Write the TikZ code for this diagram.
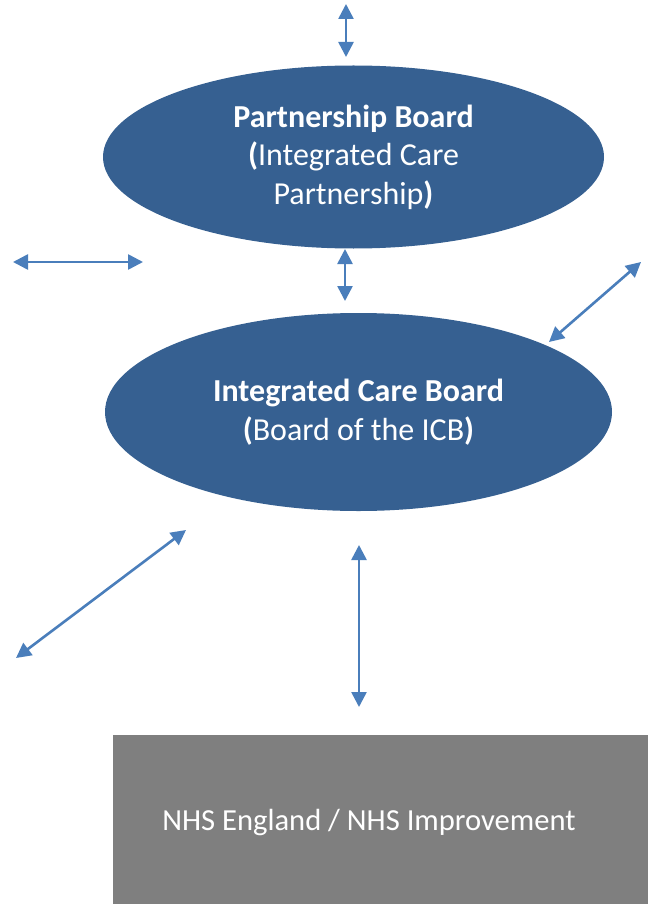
\documentclass[tikz,border=0pt]{standalone}
\usepackage{fontspec}
\setmainfont{Carlito}
\usetikzlibrary{shapes.geometric,arrows.meta}
\definecolor{boardblue}{RGB}{54,96,145}
\definecolor{linkblue}{RGB}{74,126,187}
\definecolor{nhsgrey}{RGB}{127,127,127}
\begin{document}
\begin{tikzpicture}[
    x=1pt, y=-1pt,
    board/.style={ellipse, draw=none, fill=boardblue, text=white, inner sep=0pt, align=center, font=\fontsize{32}{38.5}\selectfont},
    nhsbox/.style={rectangle, draw=none, fill=nhsgrey, text=white, inner sep=0pt},
    link/.style={linkblue, line width=2.6pt, {Triangle[length=15pt, width=15pt]}-{Triangle[length=15pt, width=15pt]}}
  ]
    \useasboundingbox (0,0) rectangle (648,904);

    % Boards
    \node[board, minimum width=501pt, minimum height=183pt] (pb) at (353.5,157)
      {\textbf{Partnership Board}\\\textbf{(}Integrated Care\\Partnership\textbf{)}};
    \node[board, minimum width=507pt, minimum height=198pt] (icb) at (358.5,412)
      {\textbf{Integrated Care Board}\\\textbf{(}Board of the ICB\textbf{)}};

    % NHS England
    \node[nhsbox, minimum width=535pt, minimum height=169pt, anchor=north west] (nhse) at (113,735) {};
    \node[text=white, font=\fontsize{30.6}{36}\selectfont] (nhsetext) at (369,822) {NHS England / NHS Improvement};

    % Link ends
    \coordinate (top1) at (346,4);
    \coordinate (top2) at (346,57);
    \coordinate (left1) at (13,262);
    \coordinate (left2) at (143,262);
    \coordinate (mid1) at (345,249);
    \coordinate (mid2) at (345,301);
    \coordinate (right1) at (641,262);
    \coordinate (right2) at (549,342);
    \coordinate (low1) at (186,530);
    \coordinate (low2) at (16,658);
    \coordinate (down1) at (359,545);
    \coordinate (down2) at (359,707);

    % Links
    \foreach \a/\b in {top1/top2, left1/left2, mid1/mid2, right1/right2, low1/low2, down1/down2}
      \draw[link] (\a) -- (\b);
  \end{tikzpicture}
\end{document}
